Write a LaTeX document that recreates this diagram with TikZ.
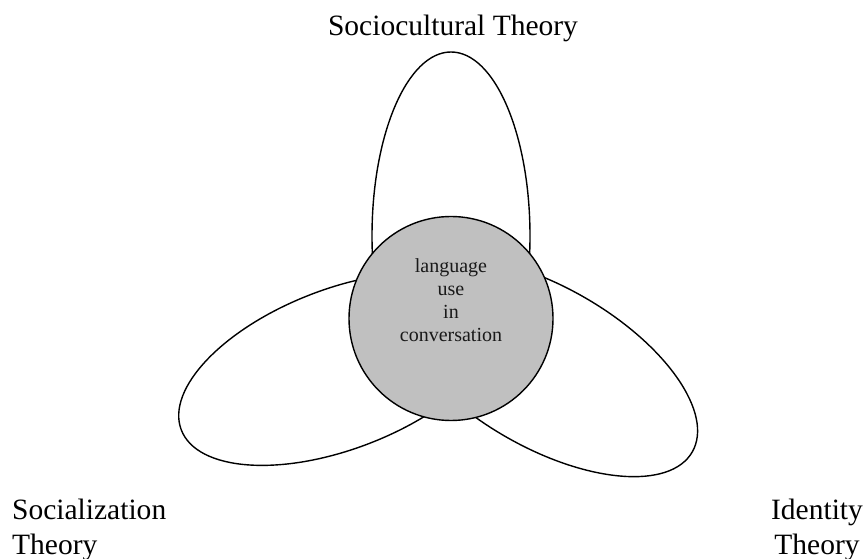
\documentclass[tikz,border=0pt]{standalone}
\usepackage{fontspec}
\setmainfont{Liberation Serif}
\usetikzlibrary{shapes.geometric}
\definecolor{hubgray}{HTML}{C0C0C0}
\tikzset{
  lobe/.style={ellipse, draw=black, fill=white, line width=1.4pt, inner sep=0pt},
  hub/.style={circle, draw=black, fill=hubgray, line width=1.4pt, inner sep=0pt, minimum size=204pt},
  biglabel/.style={font=\fontsize{29.5}{34}\selectfont, inner sep=0pt},
  hubtext/.style={font=\fontsize{20}{23}\selectfont, align=center, inner sep=0pt, text=black!90}
}
\begin{document}
\begin{tikzpicture}[x=1pt,y=1pt]
\useasboundingbox (0,0) rectangle (864,559);
\node[lobe, minimum width=158pt, minimum height=368pt] (toplobe) at (451,323) {};
\node[lobe, rotate=21, minimum width=340pt, minimum height=160pt] (leftlobe) at (340,190) {};
\node[lobe, rotate=-30, minimum width=340pt, minimum height=160pt] (rightlobe) at (545,192) {};
\node[hub] (hub) at (451,240.5) {};
\node[hubtext, anchor=base] (hubtxt) at (451,217) {language\\use\\in\\conversation};
\node[biglabel, anchor=base] (socio) at (453,523) {Sociocultural Theory};
\node[biglabel, anchor=base west, align=left] (social) at (12,5) {Socialization\\Theory};
\node[biglabel, anchor=base, align=center] (ident) at (817,5) {Identity\\Theory};
\end{tikzpicture}
\end{document}
